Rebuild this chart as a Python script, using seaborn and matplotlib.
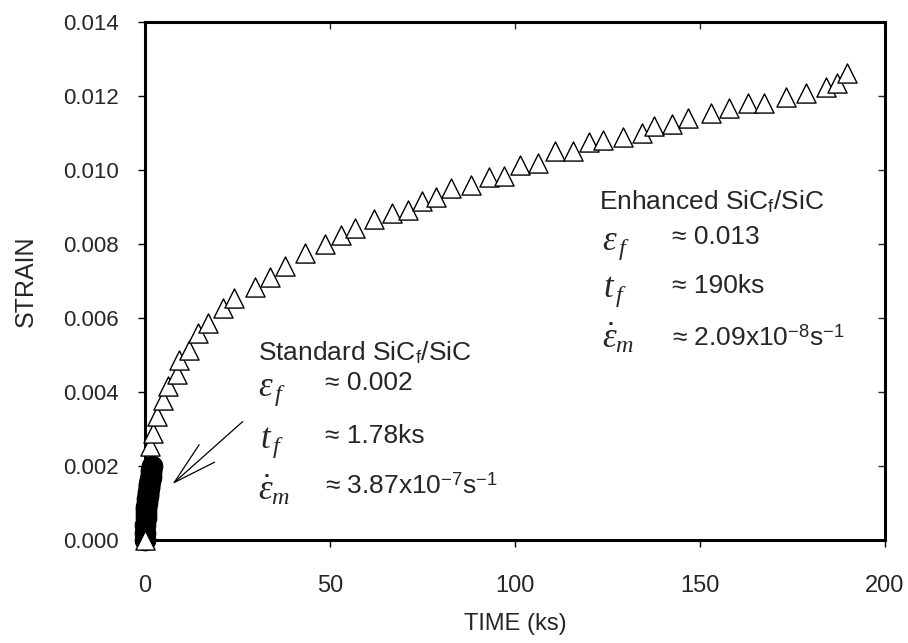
import matplotlib
matplotlib.use("Agg")
import matplotlib.pyplot as plt
from matplotlib import font_manager
import seaborn as sns
import pandas as pd

# enhanced SiCf/SiC creep curve (triangles)
enh_time = [0.0, 1.35, 2.2, 3.3, 4.9, 6.3, 8.6, 9.3, 12.0, 14.4, 17.1, 21.0, 24.1, 29.7,
            33.8, 37.8, 43.2, 48.6, 53.0, 56.7, 62.0, 66.8, 71.0, 74.8, 78.6, 82.7, 88.0,
            92.9, 97.1, 101.4, 106.1, 110.8, 115.8, 120.0, 123.7, 129.1, 134.4, 137.6,
            142.4, 146.7, 153.0, 157.9, 163.1, 167.3, 173.2, 178.6, 184.0, 186.9, 189.8]
enh_strain = [0.0, 0.00254, 0.0029, 0.00335, 0.00378, 0.00416, 0.00449, 0.00486, 0.00514,
              0.0056, 0.00586, 0.00627, 0.00654, 0.00684, 0.00712, 0.0074, 0.00776, 0.008,
              0.00824, 0.00844, 0.00868, 0.00883, 0.00892, 0.00917, 0.00926, 0.0095, 0.0096,
              0.0098, 0.00985, 0.01014, 0.01018, 0.01052, 0.01052, 0.01077, 0.01081, 0.0109,
              0.01099, 0.0112, 0.01124, 0.0114, 0.01153, 0.01167, 0.01182, 0.01182, 0.01196,
              0.01209, 0.01225, 0.01234, 0.01263]

# standard SiCf/SiC creep curve (filled circles, very dense)
std_time = [0.0, 0.05, 0.1, 0.15, 0.2, 0.3, 0.4, 0.5, 0.6, 0.7, 0.8, 0.9, 1.0, 1.1,
            1.2, 1.3, 1.4, 1.5, 1.6, 1.7, 1.78]
std_strain = [0.0, 0.0002, 0.0004, 0.0006, 0.0007, 0.0008, 0.0009, 0.001, 0.0011, 0.0012,
              0.00125, 0.0013, 0.0014, 0.00145, 0.0015, 0.0016, 0.00165, 0.0017, 0.0018,
              0.0019, 0.002]

x_ticks = [0, 50, 100, 150, 200]
y_ticks = [0.000, 0.002, 0.004, 0.006, 0.008, 0.010, 0.012, 0.014]

sns.set_style("ticks")
plt.rcParams["font.family"] = ["Liberation Sans", "DejaVu Sans"]
plt.rcParams["mathtext.fontset"] = "custom"
plt.rcParams["mathtext.rm"] = "Liberation Sans"
plt.rcParams["mathtext.it"] = "Liberation Serif:italic"
plt.rcParams["mathtext.bf"] = "Liberation Sans:bold"

installed = {f.name for f in font_manager.fontManager.ttflist}
narrow = "Liberation Sans Narrow" if "Liberation Sans Narrow" in installed else "Liberation Sans"

std_df = pd.DataFrame({"time": std_time, "strain": std_strain})
enh_df = pd.DataFrame({"time": enh_time, "strain": enh_strain})

fig = plt.figure(figsize=(9.08, 6.43), dpi=100)
ax = fig.add_axes([0.1597, 0.1602, 0.815, 0.8056])

sns.scatterplot(data=std_df, x="time", y="strain", ax=ax, marker="o", s=220,
                color="black", edgecolor="black", linewidth=0.8, clip_on=False, zorder=3)
sns.scatterplot(data=enh_df, x="time", y="strain", ax=ax, marker="^", s=190,
                facecolor="white", edgecolor="black", linewidth=1.0, clip_on=False, zorder=4)

ax.set_xlim(0, 200)
ax.set_ylim(0, 0.014)
ax.set_xticks(x_ticks)
ax.set_yticks(y_ticks)
ax.set_yticklabels([f"{v:.3f}" for v in y_ticks])
ax.set_xlabel("TIME (ks)", fontsize=17, family=narrow, labelpad=12)
ax.set_ylabel("STRAIN", fontsize=18, labelpad=18)

for sp in ax.spines.values():
    sp.set_visible(True)
    sp.set_linewidth(2.2)
    sp.set_color("black")
ax.tick_params(axis="both", direction="out", length=5, width=1, color="black", labelsize=16)
ax.tick_params(axis="y", pad=14)
ax.tick_params(axis="x", pad=20)
for lab in ax.get_xticklabels():
    lab.set_family(narrow)
    lab.set_fontsize(17)

# mirrored inward ticks on top and right
top = ax.secondary_xaxis("top")
top.set_xticks(x_ticks)
top.tick_params(direction="in", length=5, width=1, labeltop=False)
right = ax.secondary_yaxis("right")
right.set_yticks(y_ticks)
right.tick_params(direction="in", length=5, width=1, labelright=False)

# arrow pointing at the standard curve
ax.annotate("", xy=(7.4, 0.00151), xytext=(26.4, 0.0032),
            arrowprops=dict(arrowstyle="->, head_length=2.25, head_width=0.6",
                            mutation_scale=14, color="black", lw=0.9, shrinkA=0, shrinkB=0))

txt = dict(transform=ax.transAxes, ha="left", va="baseline", fontsize=19)
sym = dict(transform=ax.transAxes, ha="left", va="baseline", fontsize=25)

# standard block
ax.text(0.1527, 0.3475, r"Standard SiC$_\mathrm{f}$/SiC", **txt)
ax.text(0.153, 0.278, r"$\varepsilon_{\,f}$", **sym)
ax.text(0.243, 0.2896, "\u2248 0.002", **txt)
ax.text(0.155, 0.1776, r"$t_{\,f}$", **sym)
ax.text(0.243, 0.1873, "\u2248 1.78ks", **txt)
ax.text(0.153, 0.0772, r"$\dot{\varepsilon}_{m}$", **sym)
ax.text(0.243, 0.0888, "\u2248 3.87x10$^{-7}$s$^{-1}$", **txt)

# enhanced block
ax.text(0.6135, 0.639, r"Enhanced SiC$_\mathrm{f}$/SiC", **txt)
ax.text(0.617, 0.5598, r"$\varepsilon_{\,f}$", **sym)
ax.text(0.712, 0.571, "\u2248 0.013", **txt)
ax.text(0.619, 0.469, r"$t_{\,f}$", **sym)
ax.text(0.712, 0.477, "\u2248 190ks", **txt)
ax.text(0.617, 0.37, r"$\dot{\varepsilon}_{m}$", **sym)
ax.text(0.712, 0.376, "\u2248 2.09x10$^{-8}$s$^{-1}$", **txt)

fig.savefig("out.png", dpi=100)
